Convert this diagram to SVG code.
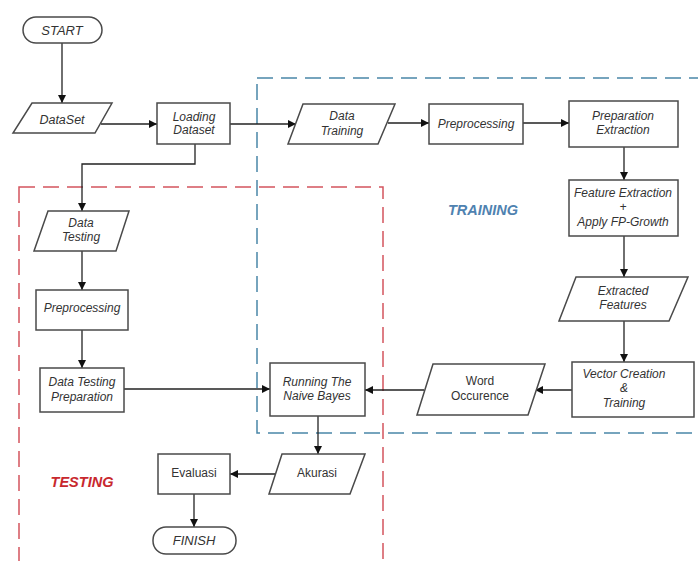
<svg xmlns="http://www.w3.org/2000/svg" width="698" height="561" viewBox="0 0 698 561">
<defs>
<marker id="ah" viewBox="0 0 10 10" refX="10" refY="5" markerWidth="8" markerHeight="8" markerUnits="userSpaceOnUse" orient="auto"><path d="M0,0 L10,5 L0,10 z" fill="#111"/></marker>
<style>
.n{fill:#fff;stroke:#4a4a4a;stroke-width:1.5}
.t{font-family:"Liberation Sans",Arial,sans-serif;font-size:12px;font-style:italic;fill:#333;text-anchor:middle}
.u{font-style:normal}
.c{fill:none;stroke:#222;stroke-width:1.3;marker-end:url(#ah)}
.lbl{font-family:"Liberation Sans",Arial,sans-serif;font-size:14.5px;font-weight:bold;font-style:italic;text-anchor:middle}
</style>
</defs>
<rect width="698" height="561" fill="#fff"/>
<g id="regions">
<rect x="257" y="78" width="460" height="355" fill="none" stroke="#4a86a8" stroke-width="1.5" stroke-dasharray="16 8"/>
<rect x="19" y="187" width="364" height="400" fill="none" stroke="#d4545e" stroke-width="1.5" stroke-dasharray="16 8"/>
<text class="lbl" x="483" y="215" fill="#4f82b0">TRAINING</text>
<text class="lbl" x="82" y="487" fill="#c8282e">TESTING</text>
</g>
<g id="connectors">
<path class="c" d="M62,43 V103"/>
<path class="c" d="M101,124 H157"/>
<path class="c" d="M230,124 H296"/>
<path class="c" d="M388,123 H429"/>
<path class="c" d="M523,123 H569"/>
<path class="c" d="M624,147 V180"/>
<path class="c" d="M624,236 V277"/>
<path class="c" d="M624,321 V362"/>
<path class="c" d="M572,390 H535"/>
<path class="c" d="M424,390 H365"/>
<path class="c" d="M195,144 V164 H82 V211"/>
<path class="c" d="M82,251 V290"/>
<path class="c" d="M82,330 V368"/>
<path class="c" d="M124,389 H270"/>
<path class="c" d="M318,416 V454"/>
<path class="c" d="M275,474 H230"/>
<path class="c" d="M194,494 V527"/>
</g>
<g id="start"><rect class="n" x="23" y="17" width="79" height="26" rx="13"/><text class="t" x="62" y="34.5" style="font-size:13px">START</text></g>
<g id="dataset"><polygon class="n" points="32,103 112,103 95,133 13,133"/><text class="t" x="62" y="124" style="font-size:12.5px">DataSet</text></g>
<g id="loading"><rect class="n" x="157" y="103" width="73" height="41"/><text class="t" x="194" y="121">Loading</text><text class="t" x="194" y="134">Dataset</text></g>
<g id="datatraining"><polygon class="n" points="303,104 395,104 378,144 288,144"/><text class="t" x="342" y="120">Data</text><text class="t" x="342" y="135">Training</text></g>
<g id="preproc1"><rect class="n" x="429" y="104" width="94" height="40"/><text class="t" x="476" y="127.5">Preprocessing</text></g>
<g id="prepext"><rect class="n" x="569" y="101" width="109" height="46"/><text class="t" x="623" y="120">Preparation</text><text class="t" x="623" y="134">Extraction</text></g>
<g id="featext"><rect class="n" x="569" y="180" width="109" height="56"/><text class="t" x="623" y="197">Feature Extraction</text><text class="t" x="623" y="211">+</text><text class="t" x="623" y="226">Apply FP-Growth</text></g>
<g id="extfeat"><polygon class="n" points="576,277 688,277 669,321 559,321"/><text class="t" x="623" y="295">Extracted</text><text class="t" x="623" y="309">Features</text></g>
<g id="vector"><rect class="n" x="572" y="362" width="122" height="55"/><text class="t" x="624" y="378">Vector Creation</text><text class="t" x="624" y="392">&amp;</text><text class="t" x="624" y="407">Training</text></g>
<g id="word"><polygon class="n" points="433,364 545,364 528,415 417,415"/><text class="t u" x="480" y="385">Word</text><text class="t u" x="480" y="400">Occurence</text></g>
<g id="running"><rect class="n" x="270" y="363" width="95" height="53"/><text class="t" x="317" y="386">Running The</text><text class="t" x="317" y="400">Naive Bayes</text></g>
<g id="datatesting"><polygon class="n" points="48,211 129,211 116,251 34,251"/><text class="t" x="81" y="227">Data</text><text class="t" x="81" y="241">Testing</text></g>
<g id="preproc2"><rect class="n" x="36" y="290" width="92" height="40"/><text class="t" x="82" y="312">Preprocessing</text></g>
<g id="dtprep"><rect class="n" x="40" y="368" width="84" height="44"/><text class="t" x="82" y="386">Data Testing</text><text class="t" x="82" y="401">Preparation</text></g>
<g id="akurasi"><polygon class="n" points="282,454 365,454 350,494 269,494"/><text class="t u" x="317" y="477">Akurasi</text></g>
<g id="evaluasi"><rect class="n" x="158" y="454" width="72" height="40"/><text class="t u" x="194" y="477">Evaluasi</text></g>
<g id="finish"><rect class="n" x="153" y="527" width="83" height="27" rx="13"/><text class="t" x="194" y="544.5" style="font-size:13px">FINISH</text></g>
</svg>
